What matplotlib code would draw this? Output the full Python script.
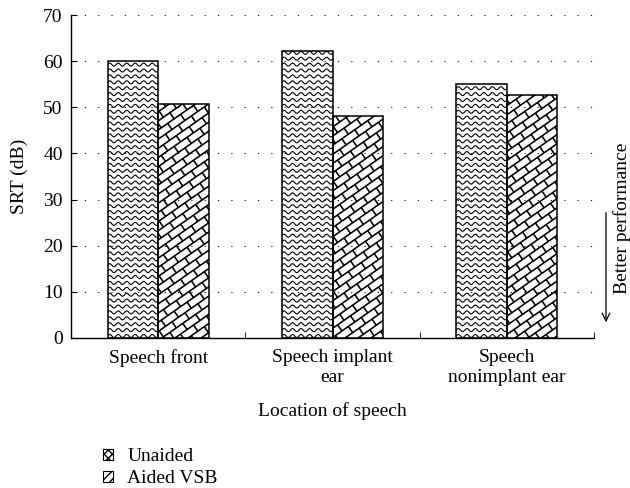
import matplotlib

matplotlib.use("Agg")
import matplotlib.pyplot as plt
import numpy as np
from matplotlib.collections import LineCollection
from matplotlib.patches import Patch
from matplotlib.transforms import IdentityTransform

categories = ["Speech front", "Speech implant\near", "Speech\nnonimplant ear"]
unaided = [60.1, 62.2, 55.1]
aided_vsb = [50.7, 48.2, 52.6]
series_names = ["Unaided", "Aided VSB"]
y_ticks = [0, 10, 20, 30, 40, 50, 60, 70]

plt.rcParams["font.family"] = ["Liberation Serif", "DejaVu Serif"]
plt.rcParams["font.size"] = 14
plt.rcParams["axes.linewidth"] = 1.0

W, H = 630, 488
fig = plt.figure(figsize=(W / 100, H / 100), dpi=100)
ax = fig.add_axes([71 / W, 150 / H, 523 / W, 323 / H])

x = np.arange(len(categories))
bw = 0.29
bars_u = ax.bar(x - bw / 2, unaided, bw, facecolor="none", edgecolor="black", linewidth=1.1, zorder=4)
bars_a = ax.bar(x + bw / 2, aided_vsb, bw, facecolor="none", edgecolor="black", linewidth=1.1, zorder=4)

ax.set_xlim(-0.5, len(categories) - 0.5)
ax.set_ylim(0, 70)
ax.set_yticks(y_ticks)
ax.set_xticks(x)
ax.set_xticklabels(categories, linespacing=1.2)
ax.set_xticks(np.arange(len(categories) + 1) - 0.5, minor=True)
ax.tick_params(axis="x", which="major", length=0, pad=8)
ax.tick_params(axis="x", which="minor", direction="in", length=4)
ax.tick_params(axis="y", direction="in", length=4, pad=6)
ax.spines["top"].set_visible(False)
ax.spines["right"].set_visible(False)
for v in y_ticks[1:]:
    ax.axhline(v, color="black", linewidth=0.7, linestyle=(0, (1.2, 12.5)), zorder=1)
ax.set_ylabel("SRT (dB)", labelpad=11)
ax.set_xlabel("Location of speech", labelpad=12)


def bar_box(bar):
    x0, y0 = ax.transData.transform((bar.get_x(), bar.get_y()))
    x1, y1 = ax.transData.transform((bar.get_x() + bar.get_width(), bar.get_y() + bar.get_height()))
    return x0, y0, x1, y1


# wavy texture for the unaided bars
for bar in bars_u:
    x0, y0, x1, y1 = bar_box(bar)
    xs = np.linspace(x0 - 5, x1 + 5, 200)
    segs = []
    for yy in np.arange(y0 + 2, y1 + 4, 5.9):
        segs.append(np.column_stack([xs, yy + 1.5 * np.sin(2 * np.pi * (xs - x0) / 8.5)]))
    lc = LineCollection(segs, colors="black", linewidths=0.8, transform=IdentityTransform(), zorder=3.5)
    ax.add_collection(lc)
    lc.set_clip_path(bar)

# brick texture for the aided bars
theta = np.deg2rad(35)
d = np.array([np.cos(theta), np.sin(theta)])
n = np.array([-np.sin(theta), np.cos(theta)])
s = 7.5
L = 2.1 * s
for bar in bars_a:
    x0, y0, x1, y1 = bar_box(bar)
    corners = np.array([(x0, y0), (x1, y0), (x0, y1), (x1, y1)])
    us = corners @ d
    vs = corners @ n
    umin, umax = us.min() - L, us.max() + L
    segs = []
    for k in range(int(np.floor(vs.min() / s)) - 1, int(np.ceil(vs.max() / s)) + 1):
        v = k * s
        segs.append([umin * d + v * n, umax * d + v * n])
        off = (k % 2) * L / 2
        for u in np.arange(np.floor(umin / L) * L + off, umax, L):
            segs.append([u * d + v * n, u * d + (v + s) * n])
    lc = LineCollection(segs, colors="black", linewidths=1.15, transform=IdentityTransform(), zorder=3.5)
    ax.add_collection(lc)
    lc.set_clip_path(bar)

handles = [
    Patch(facecolor="white", edgecolor="black", hatch="xxxx", linewidth=0.8, label=series_names[0]),
    Patch(facecolor="white", edgecolor="black", hatch="////", linewidth=0.8, label=series_names[1]),
]
fig.legend(
    handles=handles,
    loc="upper left",
    bbox_to_anchor=(103 / W, 1 - 448 / H),
    frameon=False,
    handlelength=0.5,
    handleheight=0.5,
    handletextpad=0.75,
    labelspacing=0.28,
    borderpad=0,
    borderaxespad=0,
)

ax.annotate(
    "",
    xy=(606, H - 325),
    xytext=(606, H - 210),
    xycoords="figure pixels",
    textcoords="figure pixels",
    arrowprops=dict(arrowstyle="->", color="black", linewidth=0.9),
)
fig.text(622 / W, 1 - 218 / H, "Better performance", rotation=90, ha="center", va="center")

fig.savefig("out.png", dpi=100)
